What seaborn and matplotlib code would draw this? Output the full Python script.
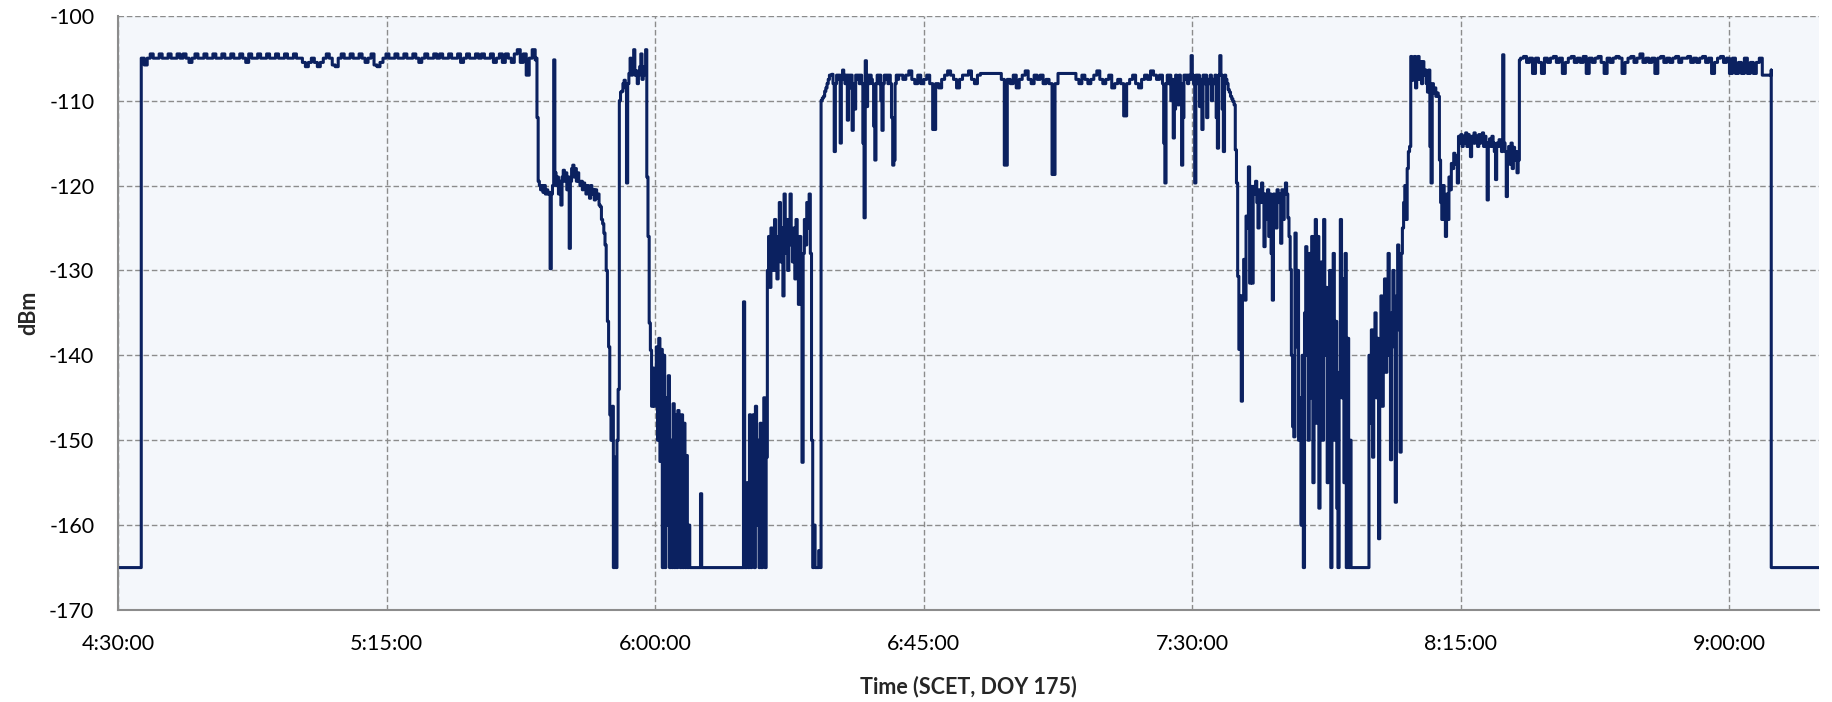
# Received signal strength vs time, DOY 175 pass
import numpy as np
import pandas as pd
import seaborn as sns
import matplotlib.pyplot as plt
import matplotlib.ticker as mticker
import matplotlib.dates as mdates

# --- data: each segment is (start minute after 4:30, sample step in minutes, dBm samples) ---
seg_pre = [-165, -165]

seg_plateau1 = [
    -105, -105.8, -105, -104.5, -105, -105, -104.5, -105, -105, -104.5,
    -105, -105, -104.5, -105, -104.5, -105, -105.5, -105, -104.5, -105,
    -105, -104.5, -105, -105, -104.5, -105, -105, -104.5, -105, -105,
    -104.5, -105, -105, -104.5, -105, -105.5, -104.5, -105, -105, -104.5,
    -105, -105, -104.5, -105, -105, -104.5, -105, -105, -104.5, -105,
    -105, -104.5, -105, -105, -105.5, -106, -105.5, -105, -105.5, -106,
    -105.5, -105, -104.5, -105, -105.8, -106, -105, -104.5, -105, -105,
    -104.5, -105, -105, -104.5, -105, -105.5, -105, -104.5, -105.8, -106,
    -105.5, -105, -104.5, -105, -105, -104.5, -105, -105, -104.5, -105,
    -105, -104.5, -105, -105.5, -105, -104.5, -105, -105, -104.5, -105,
    -104.5, -105, -105, -104.5, -105, -105, -104.5, -105.5, -105, -104.5,
    -105, -105, -104.5, -105, -104.5, -105, -105, -104.5, -105.5, -105,
    -104.5, -105.5, -104.5, -105, -105.5, -104.5, -104, -105.5, -104.5, -107,
    -105, -104, -105.2,
]

seg_fade1 = [
    -105, -112, -119.5, -120, -120.5, -120, -120.8, -120, -121, -120.5,
    -121, -120.8, -129.8, -121, -120, -105.2, -118.5, -120, -119, -121,
    -119.5, -122.3, -119, -118.2, -119.5, -118.5, -120.5, -119, -127.4, -119.5,
    -118, -117.6, -119, -118, -119.5, -118.5, -119.5, -120, -119.5, -120.5,
    -119.7, -120, -121, -120, -120.5, -121.5, -120, -121, -120.5, -121.7,
    -120.5, -121.5, -121, -122.3, -122.5, -124, -124.5, -125.6, -127, -130,
    -136, -139, -147, -150, -146, -165, -152, -165, -150, -144,
    -110, -109, -108.9, -108, -107.6, -108.5, -119.7, -108, -106.8, -105,
    -107, -106, -104, -107, -106.5, -108, -107, -106, -104.5, -107.5,
    -107, -106, -104, -119, -126, -136.2, -139.4, -146, -141.5, -146,
    -144, -139, -150, -138, -152.5, -139.3, -165, -140, -165, -145,
    -160, -142.4, -165, -150, -165, -145.7, -165, -147, -165, -146.5,
    -160, -165, -147, -165, -148, -165, -151.8, -165, -160, -165,
    -165, -165, -165, -165, -165, -165, -165, -165, -156.3, -165,
]

seg_loss1 = [-165, -165]

seg_fade2 = [
    -165, -133.7, -165, -165, -155, -165, -147, -165, -150, -147,
    -165, -146, -160, -150, -165, -148, -165, -149, -145, -165,
    -152, -130, -126, -132, -125, -128, -130, -124, -127, -131,
    -126, -122, -129, -125, -133, -121, -128, -124, -130, -127,
    -121, -126, -129, -125, -131, -124, -128, -134, -126, -130,
    -152.6, -128, -124, -127, -122, -125, -121, -128, -150, -165,
    -160, -165, -165, -165, -163, -165,
]

seg_plateau2a = [
    -110, -109.7, -109.5, -108.9, -108.5, -108, -107.5, -107, -107, -106.9,
    -108, -116, -108, -107, -107.5, -107, -115, -107.5, -106.4, -107,
    -108, -107, -112.3, -107, -108.5, -107, -113.5, -108, -111, -107,
    -107.5, -107, -108, -107, -108, -115, -123.8, -105.3, -110.7, -107,
    -108, -107, -107.5, -108, -113, -117, -108, -107, -108, -107,
    -110, -113.5, -108, -107, -107.5, -107, -108, -107, -108, -112,
    -117.6, -117, -108, -107, -107.5, -107,
]

seg_plateau2b = [
    -107, -107.5, -107, -106.5, -107.5, -108, -107, -108, -107.5, -107,
    -108, -113.4, -108, -108.5, -107.5, -107, -106.5, -107, -107.5, -108.5,
    -107.5, -107, -107, -106.5, -107.5, -108, -107, -106.8, -106.8, -106.8,
    -106.8, -106.8, -106.8, -106.8, -107.5, -117.6, -107.5, -108, -107, -108.5,
    -107.5, -107, -106.5, -107.5, -108, -107, -107.5, -107, -108, -107.5,
    -108, -118.7, -108, -106.8, -106.8, -106.8, -106.8, -106.8, -106.8, -107.5,
    -108, -107, -107.5, -108, -107.5, -107, -106.5, -107.5, -108, -107.5,
    -107, -108.5, -108, -107.5, -108, -111.8, -108, -107.5, -107, -108,
    -108.5, -107.5, -107, -107.5, -106.5, -107, -107.5, -107,
]

seg_plateau2c = [
    -108, -115, -119.7, -108, -107, -108, -107, -110, -107.5, -114.4,
    -111, -107, -107.5, -110.5, -107, -108, -117.6, -112, -107, -107.5,
    -107, -108, -107, -107.5, -104.7, -107, -108, -119.7, -107, -108,
    -107, -110.7, -107.5, -113.4, -107, -108, -107, -112, -107.5, -108,
    -107, -110, -107.5, -108, -107, -112, -115.6, -107, -104.7, -107,
    -111, -116, -107, -107.5, -108, -108.7, -109, -109.5, -109.8, -110.1,
    -110.5, -115.8,
]

seg_fade3 = [
    -119.7, -130.7, -139.3, -133, -145.4, -133, -128.7, -133.5, -123.6, -125,
    -117.8, -131.5, -120.1, -131.5, -120.1, -121, -119.5, -122, -125, -120.5,
    -122, -119.7, -121, -127.2, -121, -124, -120.5, -126, -121, -128,
    -133.5, -121, -124, -125, -120.5, -122, -121, -126.8, -120.5, -124,
    -121, -119.7, -121, -123.8, -126, -129.9, -140, -148.4, -149.6, -125.6,
    -139, -130, -150, -145, -160, -140, -165, -135, -127.2, -140,
    -150, -128, -145, -126, -155, -131, -124, -148, -126, -158,
    -135, -129, -150, -124, -140, -132, -155, -138, -130, -165,
    -140, -128, -150, -136, -158, -165, -142, -124, -145, -131,
    -155, -128, -165, -138, -165, -150, -165, -165, -165, -165,
    -165, -165, -165, -165, -165, -165, -165, -165, -165, -165,
    -165, -140, -148, -137, -152, -142, -135, -145, -138, -161.6,
    -140, -133, -146, -138, -131, -142, -136, -128, -140, -152.3,
    -135, -130, -139, -157.3, -133, -127, -137, -151.4, -128, -125,
    -122, -120, -124, -118, -116,
]

seg_recover = [
    -115.4, -104.8, -107.6, -106, -104.8, -108.5, -106, -104.8, -107.5, -105.4,
    -108, -105.4, -107, -106.4, -108, -109, -106.4, -115.4, -119.7, -108,
    -109.1, -108.5, -109.5, -109.1, -109.5, -117, -122, -124, -120, -123,
    -126, -121, -124, -119, -120.5, -117.4, -118, -116.2, -117.5, -116.5,
    -119.7, -114.2, -115, -114, -115.4, -114.2, -115, -113.8, -115.4, -114,
    -115, -116.6, -114.2, -115, -113.8, -115, -114.2, -115.4, -114, -115,
    -114.6, -113.8, -115.4, -114.2, -115, -121.7, -115, -114.5, -115.4, -114.2,
    -115, -116, -119.3, -115, -115.4, -114.6, -115, -116, -104.6, -115,
    -116, -121.3, -117, -115.4, -117.5, -115, -118, -115.5, -117, -116,
    -118.5, -117, -105.2,
]

seg_plateau3 = [
    -105, -104.8, -105.5, -105, -106.8, -105, -105.5, -106.8, -105, -105.5,
    -105, -104.8, -105.5, -105, -106.8, -105.5, -105, -104.8, -105.5, -105,
    -105.5, -104.8, -106.8, -105, -105.5, -105, -104.8, -105.5, -106.8, -105,
    -105.5, -105, -104.8, -105, -106.8, -105.5, -105, -104.8, -105.5, -105,
    -104.5, -105.5, -105, -105.5, -105, -106.8, -105, -104.8, -105.5, -105,
    -105.5, -105, -104.8, -105.5, -105, -105, -104.8, -105.5, -105, -105.5,
    -105, -104.8, -105.5, -105, -106.8, -105.5, -105, -104.8, -105.5, -105,
    -106.8, -105, -106.8, -105.5, -106.8, -105, -106.8, -105.5, -106.8, -105.5,
    -105, -107, -107, -107, -106.4,
]

seg_post = [-165, -165]

segments = [
    (0.0, 3.9, seg_pre),
    (3.9, 0.5, seg_plateau1),
    (70.0, 0.2, seg_fade1),
    (97.8, 6.8, seg_loss1),
    (104.6, 0.2, seg_fade2),
    (117.8, 0.2, seg_plateau2a),
    (131.0, 0.5, seg_plateau2b),
    (175.0, 0.2, seg_plateau2c),
    (187.4, 0.2, seg_fade3),
    (216.4, 0.2, seg_recover),
    (235.0, 0.5, seg_plateau3),
    (277.0, 8.0, seg_post),
]

start = pd.Timestamp("2000-06-23 04:30:00")
frames = []
for t0, step, vals in segments:
    mins = t0 + step * np.arange(len(vals))
    frames.append(pd.DataFrame({"minutes": mins, "dbm": vals}))
df = pd.concat(frames, ignore_index=True)
df["time"] = start + pd.to_timedelta(df["minutes"], unit="min")

# --- style ---
sns.set_style("white")
plt.rcParams["font.family"] = ["Lato", "DejaVu Sans"]
plt.rcParams["axes.unicode_minus"] = False
GRID = "#8c8c8c"

fig = plt.figure(figsize=(18.32, 7.02), dpi=100)
ax = fig.add_axes([0.0644, 0.131, 0.9285, 0.8466])
ax.set_facecolor("#f4f7fb")

sns.lineplot(data=df, x="time", y="dbm", estimator=None, sort=False,
             color="#0b2160", linewidth=2.2, drawstyle="steps-post", ax=ax)

ax.set_xlim(start, start + pd.Timedelta(minutes=285))
ax.set_ylim(-170, -100)
ax.set_yticks(range(-170, -99, 10))
ax.set_xticks([start + pd.Timedelta(minutes=45 * k) for k in range(7)])
ax.xaxis.set_major_formatter(mticker.FuncFormatter(
    lambda v, pos: mdates.num2date(v).strftime("%H:%M:%S").lstrip("0")))

ax.set_axisbelow(True)
ax.grid(True, color=GRID, linestyle=(0, (4, 2)), linewidth=1.0)
for side in ["top", "right"]:
    ax.spines[side].set_visible(False)
for side in ["left", "bottom"]:
    ax.spines[side].set_color(GRID)
    ax.spines[side].set_linewidth(1.5)

ax.tick_params(direction="out", length=6, width=1.5, color=GRID, pad=11,
               labelsize=15.5, labelcolor="black")
ax.set_xlabel("Time (SCET, DOY 175)", fontweight="bold", fontsize=15.5, labelpad=16)
ax.set_ylabel("dBm", fontweight="bold", fontsize=15.5, labelpad=7)

fig.savefig("out.png", dpi=100)
